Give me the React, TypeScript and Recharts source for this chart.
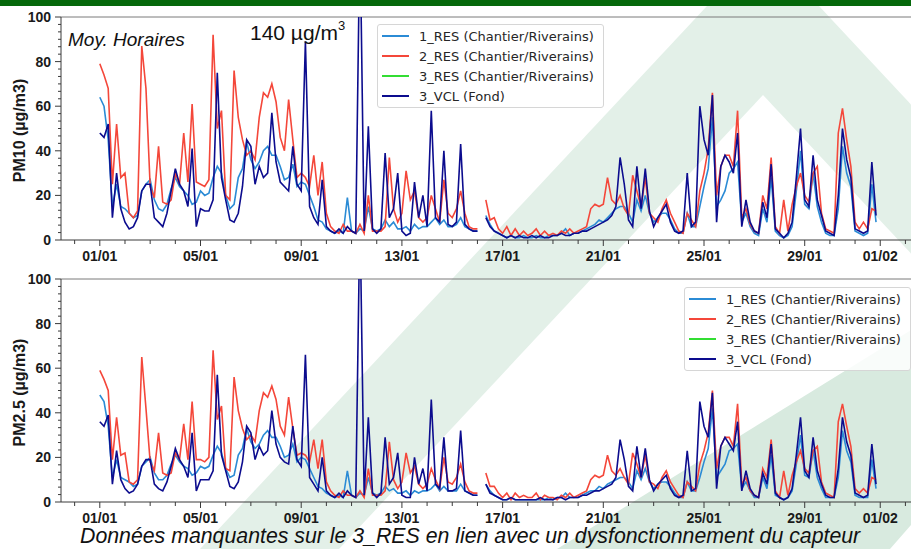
import { LineChart, Line, XAxis, YAxis, Legend, ReferenceLine } from 'recharts';

// one reading every 4 h (0h, 4h, 8h, 12h, 16h, 20h), from 01/01 00h to 31/01 20h
const STEP_HOURS = 4;

// PM10 (µg/m3)
const pm10Res1: (number | null)[] = [
  64, 60, 45, 15, 25, 15,
  14, 12, 10, 11, 22, 25,
  27, 18, 14, 13, 16, 23,
  28, 24, 22, 20, 16, 17,
  22, 20, 21, 28, 33, 30,
  20, 14, 16, 28, 32, 44,
  36, 32, 35, 40, 42, 38,
  38, 33, 27, 28, 34, 24,
  26, 25, 20, 15, 9, 8,
  5, 4, 3, 4, 3, 19,
  4, 3, 5, 4, 15, 5,
  4, 5, 9, 6, 8, 5,
  5, 6, 4, 7, 5, 6,
  6, 8, 10, 7, 9, 6,
  6, 7, 10, 6, 5, 4,
  4, null, 11, 7, 4, 3,
  2, 1, 2, 1, 1, 2,
  1, 1, 2, 1, 1, 2,
  2, 2, 3, 5, 2, 3,
  3, 4, 5, 6, 7, 9,
  8, 10, 12, 14, 15, 15,
  12, 8, 18, 13, 20, 12,
  8, 10, 12, 12, 9, 5,
  3, 3, 12, 6, 6, 15,
  24, 32, 55, 15, 18, 22,
  30, 32, 35, 8, 12, 6,
  3, 2, 14, 8, 28, 4,
  2, 1, 2, 6, 22, 40,
  16, 14, 30, 15, 8, 3,
  2, 2, 14, 42, 30, 24,
  4, 3, 2, 3, 25, 8,
];

const pm10Res2: (number | null)[] = [
  79, 74, 68, 25, 52, 28,
  30, 12, 10, 13, 87, 68,
  24, 19, 42, 17, 16, 18,
  30, 25, 48, 26, 61, 26,
  25, 24, 27, 92, 50, 58,
  20, 18, 76, 55, 45, 38,
  40, 36, 55, 66, 64, 70,
  62, 46, 40, 63, 45, 28,
  30, 28, 24, 38, 20, 35,
  12, 6, 4, 3, 7, 4,
  4, 3, 7, 3, 20, 4,
  4, 4, 6, 37, 14, 8,
  12, 31, 18, 22, 10, 8,
  10, 20, 14, 8, 27, 12,
  10, 14, 22, 12, 6, 5,
  5, null, 18, 9, 10, 5,
  3, 6, 2, 5, 2, 4,
  2, 3, 5, 2, 4, 2,
  3, 2, 4, 3, 5, 3,
  4, 5, 6, 14, 16, 15,
  16, 28, 18, 16, 20, 14,
  11, 29, 22, 15, 28, 12,
  10, 8, 14, 18, 12, 8,
  4, 3, 12, 9, 6, 22,
  30, 41, 66, 20, 33, 38,
  38, 33, 58, 10, 14, 7,
  4, 3, 20, 14, 37, 6,
  3, 18, 4, 16, 24, 30,
  20, 17, 30, 33, 12, 5,
  4, 3, 48, 59, 45, 33,
  8, 5, 8, 5, 14, 13,
];

const pm10Vcl: (number | null)[] = [
  48, 46, 52, 10, 30, 14,
  8, 5, 6, 10, 22, 25,
  25, 10, 8, 6, 12, 22,
  32, 25, 22, 15, 41, 6,
  14, 13, 13, 18, 75, 28,
  18, 9, 8, 12, 24, 45,
  42, 25, 33, 28, 30, 57,
  35, 26, 24, 22, 42, 25,
  22, 89, 15, 10, 7, 27,
  6, 4, 3, 5, 3, 6,
  4, 3, 140, 4, 51, 5,
  3, 5, 39, 10, 14, 30,
  4, 2, 3, 26, 10, 20,
  6, 58, 10, 8, 40, 7,
  6, 8, 43, 7, 5, 4,
  4, null, 10, 6, 4, 3,
  2, 1, 2, 1, 2, 1,
  1, 2, 1, 2, 1, 1,
  2, 2, 3, 2, 2, 3,
  3, 4, 4, 5, 6, 7,
  8, 9, 11, 15, 37, 25,
  9, 6, 33, 14, 32, 13,
  6, 10, 13, 16, 8, 4,
  3, 4, 30, 6, 8, 60,
  45, 38, 65, 8, 33, 38,
  35, 30, 48, 6, 18, 8,
  4, 3, 17, 10, 34, 5,
  3, 1, 3, 8, 28, 50,
  18, 15, 38, 18, 11, 4,
  3, 2, 20, 50, 36, 28,
  5, 4, 3, 4, 35, 11,
];

// PM2.5 (µg/m3)
const pm25Res1: (number | null)[] = [
  48, 45, 34, 11, 19, 11,
  10, 9, 7, 8, 16, 18,
  20, 13, 10, 10, 12, 17,
  21, 18, 16, 15, 12, 13,
  16, 15, 16, 21, 25, 22,
  15, 11, 12, 21, 24, 33,
  27, 24, 26, 30, 32, 29,
  29, 25, 20, 21, 26, 18,
  20, 19, 15, 11, 7, 6,
  4, 3, 2, 3, 2, 14,
  3, 2, 4, 3, 11, 4,
  3, 4, 7, 5, 6, 4,
  4, 5, 3, 5, 4, 5,
  5, 6, 8, 5, 7, 5,
  5, 5, 8, 5, 4, 3,
  3, null, 8, 5, 3, 2,
  1, 1, 2, 1, 1, 1,
  1, 1, 1, 1, 1, 2,
  1, 2, 2, 4, 2, 2,
  2, 3, 4, 5, 5, 7,
  6, 8, 9, 10, 11, 11,
  9, 6, 14, 10, 15, 9,
  6, 8, 9, 9, 7, 4,
  2, 2, 9, 5, 5, 11,
  18, 24, 42, 11, 14, 17,
  23, 24, 26, 6, 9, 5,
  2, 2, 11, 6, 21, 3,
  2, 1, 2, 5, 17, 30,
  12, 11, 23, 11, 6, 2,
  2, 2, 11, 32, 23, 18,
  3, 2, 2, 2, 19, 6,
];

const pm25Res2: (number | null)[] = [
  59, 55, 50, 19, 38, 21,
  22, 9, 8, 10, 65, 42,
  18, 14, 31, 13, 12, 13,
  22, 19, 35, 19, 45, 19,
  19, 18, 20, 68, 37, 43,
  15, 14, 56, 41, 33, 28,
  30, 27, 41, 49, 47, 52,
  46, 34, 30, 47, 33, 21,
  22, 21, 18, 28, 15, 28,
  9, 5, 3, 2, 5, 3,
  3, 2, 5, 2, 15, 3,
  3, 3, 5, 27, 10, 6,
  9, 22, 13, 16, 8, 6,
  8, 15, 10, 6, 20, 9,
  8, 11, 17, 9, 5, 4,
  4, null, 13, 7, 7, 4,
  2, 4, 1, 4, 2, 3,
  2, 2, 4, 1, 3, 2,
  2, 1, 3, 2, 4, 2,
  3, 4, 5, 10, 12, 11,
  12, 21, 14, 12, 15, 11,
  8, 22, 17, 11, 21, 9,
  8, 6, 11, 14, 9, 6,
  3, 2, 9, 7, 5, 17,
  23, 31, 50, 15, 25, 29,
  29, 25, 44, 8, 11, 5,
  3, 2, 15, 11, 28, 5,
  2, 14, 3, 12, 18, 23,
  15, 13, 23, 25, 9, 4,
  3, 2, 36, 44, 34, 25,
  6, 4, 6, 4, 11, 10,
];

const pm25Vcl: (number | null)[] = [
  36, 34, 39, 8, 23, 10,
  6, 4, 5, 8, 16, 19,
  19, 8, 6, 5, 9, 16,
  24, 19, 16, 11, 31, 5,
  10, 10, 10, 14, 57, 21,
  14, 7, 6, 9, 18, 34,
  31, 19, 25, 21, 23, 41,
  26, 20, 18, 17, 34, 19,
  16, 66, 11, 8, 5, 20,
  5, 3, 2, 4, 2, 5,
  3, 2, 130, 3, 38, 4,
  2, 4, 29, 8, 11, 22,
  3, 2, 2, 20, 8, 15,
  5, 46, 8, 6, 29, 5,
  5, 6, 32, 5, 4, 3,
  3, null, 8, 4, 3, 2,
  1, 1, 2, 1, 1, 1,
  1, 1, 1, 2, 1, 1,
  1, 2, 2, 1, 2, 2,
  2, 3, 3, 4, 5, 5,
  6, 7, 8, 11, 28, 19,
  7, 5, 25, 11, 24, 10,
  5, 8, 10, 12, 6, 3,
  2, 3, 23, 5, 6, 45,
  34, 29, 49, 6, 25, 29,
  26, 23, 36, 5, 14, 6,
  3, 2, 13, 8, 26, 4,
  2, 1, 2, 6, 21, 38,
  14, 11, 29, 14, 8, 3,
  2, 2, 15, 38, 27, 21,
  4, 3, 2, 3, 26, 8,
];

// 3_RES: sensor failure, no data for the month
const res3Missing: (number | null)[] = [];

const seriesNames = [
  '1_RES (Chantier/Riverains)',
  '2_RES (Chantier/Riverains)',
  '3_RES (Chantier/Riverains)',
  '3_VCL (Fond)',
];
const seriesColors = ['#2b8bd5', '#f4473a', '#33dd33', '#0c0c8e'];

const labelHours = [0, 96, 192, 288, 384, 480, 576, 672, 744];
const labelDates = ['01/01', '05/01', '09/01', '13/01', '17/01', '21/01', '25/01', '29/01', '01/02'];
const dayTicks = Array.from({ length: 34 }, (_, i) => (i - 1) * 24);
const valueTicks = Array.from({ length: 31 }, (_, i) => (i * 10) / 3);

const AXIS = '#3a3a3a';
const TICK_FONT = '"Liberation Sans", Arial, sans-serif';

const buildRows = (r1: (number | null)[], r2: (number | null)[], vcl: (number | null)[]) =>
  r1.map((v, i) => ({ t: i * STEP_HOURS, r1: v, r2: r2[i], r3: res3Missing[i] ?? null, vcl: vcl[i] }));

const pm10Rows = buildRows(pm10Res1, pm10Res2, pm10Vcl);
const pm25Rows = buildRows(pm25Res1, pm25Res2, pm25Vcl);

function TimeTick({ x, y, payload }: any) {
  const idx = labelHours.indexOf(payload.value);
  return (
    <g>
      <line x1={x} y1={y} x2={x} y2={y + (idx >= 0 ? 6 : 4)} stroke={AXIS} />
      {idx >= 0 && (
        <text x={x} y={y + 20.5} textAnchor="middle" fontFamily={TICK_FONT} fontWeight="bold" fontSize={14} fill="#1a1a1a">
          {labelDates[idx]}
        </text>
      )}
    </g>
  );
}

function ValueTick({ x, y, payload }: any) {
  const v = payload.value;
  const major = Math.abs(v - Math.round(v)) < 1e-6 && Math.round(v) % 20 === 0;
  return (
    <g>
      <line x1={x - (major ? 6 : 3)} y1={y} x2={x} y2={y} stroke={AXIS} />
      {major && (
        <text x={x - 10} y={y + 5} textAnchor="end" fontFamily={TICK_FONT} fontWeight="bold" fontSize={14} fill="#1a1a1a">
          {Math.round(v)}
        </text>
      )}
    </g>
  );
}

function BoxLegend({ payload }: any) {
  return (
    <div
      style={{
        background: 'rgba(255,255,255,0.85)',
        border: '1px solid #d6d6d6',
        borderRadius: 3,
        boxSizing: 'border-box',
        width: '100%',
        height: '100%',
        padding: '1px 0 0 4px',
        fontFamily: '"DejaVu Sans", sans-serif',
        fontSize: 13,
        color: '#262626',
      }}
    >
      {(payload || []).map((p: any) => (
        <div key={p.value} style={{ display: 'flex', alignItems: 'center', height: 20 }}>
          <span style={{ display: 'inline-block', width: 27, borderTop: `2px solid ${p.color}`, marginRight: 10 }} />
          <span>{p.value}</span>
        </div>
      ))}
    </div>
  );
}

function PollutantChart({ rows, yLabel, legendPos }: { rows: any[]; yLabel: string; legendPos: { top: number; left: number } }) {
  const keys = ['r1', 'r2', 'r3', 'vcl'];
  return (
    <LineChart width={930} height={265} data={rows} margin={{ top: 17, right: 12, bottom: 0, left: 0 }}>
      <XAxis
        dataKey="t"
        type="number"
        domain={[-37, 780]}
        ticks={dayTicks}
        interval={0}
        tickSize={0}
        tickMargin={0}
        tickLine={false}
        tick={<TimeTick />}
        height={25}
        stroke={AXIS}
      />
      <YAxis
        type="number"
        domain={[0, 100]}
        allowDataOverflow
        ticks={valueTicks}
        interval={0}
        tickSize={0}
        tickMargin={0}
        tickLine={false}
        tick={<ValueTick />}
        width={61}
        stroke={AXIS}
        label={(props: any) => {
          const vb = props.viewBox || { x: 0, y: 17, width: 61, height: 223 };
          const cx = vb.x + 19;
          const cy = vb.y + vb.height / 2 + 2;
          return (
            <text
              x={cx}
              y={cy}
              transform={`rotate(-90, ${cx}, ${cy})`}
              textAnchor="middle"
              dominantBaseline="central"
              fontFamily={TICK_FONT}
              fontWeight="bold"
              fontSize={16}
              fill="#1a1a1a"
            >
              {yLabel}
            </text>
          );
        }}
      />
      <ReferenceLine y={100} stroke="#7a7a7a" strokeWidth={1} />
      {keys.map((k, i) => (
        <Line
          key={k}
          type="linear"
          dataKey={k}
          name={seriesNames[i]}
          stroke={seriesColors[i]}
          strokeWidth={1.6}
          dot={false}
          activeDot={false}
          connectNulls={false}
          isAnimationActive={false}
        />
      ))}
      <Legend
        layout="vertical"
        align="center"
        verticalAlign="middle"
        content={<BoxLegend />}
        wrapperStyle={{ top: legendPos.top, left: legendPos.left, width: 227, height: 84 }}
      />
    </LineChart>
  );
}

export default function App() {
  return (
    <div
      style={{
        position: 'absolute',
        left: 0,
        top: 0,
        width: 911,
        height: 549,
        overflow: 'hidden',
        background: '#ffffff',
      }}
    >
      {/* faint logo watermark behind the charts */}
      <svg width={911} height={549} style={{ position: 'absolute', left: 0, top: 0 }}>
        <polygon points="763,-54 200,549 1326,549" fill="#e3f0e8" />
        <polygon points="763,95 339,549 1187,549" fill="#ffffff" />
        <polygon points="557,549 911,330 911,525 890,549" fill="#d8eadf" />
      </svg>
      <div style={{ position: 'absolute', left: 0, top: 0, width: 911, height: 6, background: '#05680b' }} />
      <div style={{ position: 'absolute', left: 0, top: 0 }}>
        <PollutantChart rows={pm10Rows} yLabel="PM10 (µg/m3)" legendPos={{ top: 24, left: 377 }} />
      </div>
      <div style={{ position: 'absolute', left: 0, top: 262 }}>
        <PollutantChart rows={pm25Rows} yLabel="PM2.5 (µg/m3)" legendPos={{ top: 25, left: 684 }} />
      </div>
      <svg width={911} height={549} style={{ position: 'absolute', left: 0, top: 0, pointerEvents: 'none' }}>
        <text x={68} y={46} fontFamily={TICK_FONT} fontStyle="italic" fontSize={19} fill="#111">
          Moy. Horaires
        </text>
        <text x={250} y={39.5} fontFamily={TICK_FONT} fontSize={21} fill="#111">
          140 µg/m
          <tspan fontSize={13} dy={-9.5}>3</tspan>
        </text>
        <text x={80} y={543} fontFamily={TICK_FONT} fontStyle="italic" fontSize={21.3} fill="#111">
          Données manquantes sur le 3_RES en lien avec un dysfonctionnement du capteur
        </text>
      </svg>
    </div>
  );
}
